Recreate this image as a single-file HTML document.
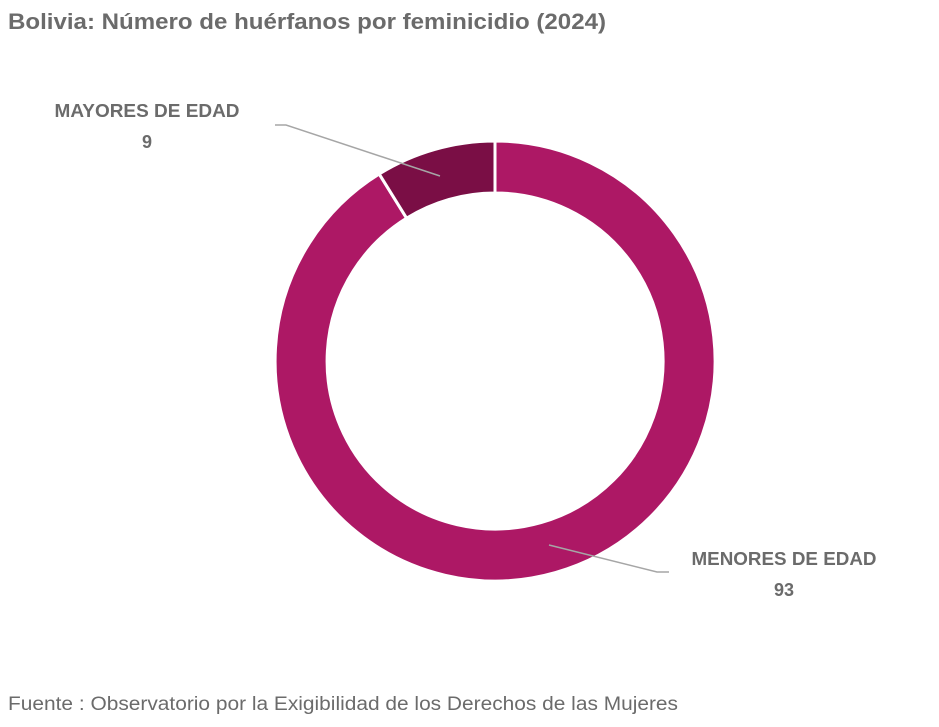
<!DOCTYPE html>
<html><head><meta charset="utf-8"><style>
body{margin:0;background:#fff;width:939px;height:722px;overflow:hidden;font-family:"Liberation Sans",sans-serif}
</style></head><body>
<svg width="939" height="722" viewBox="0 0 939 722" xmlns="http://www.w3.org/2000/svg">
<text x="8" y="29" font-family="Liberation Sans, sans-serif" font-weight="bold" font-size="22" fill="#6b6b6b" textLength="598" lengthAdjust="spacingAndGlyphs">Bolivia: Número de huérfanos por feminicidio (2024)</text>
<path d="M495,141 A220,220 0 1,1 379.2,174 L406.6,218.2 A168,168 0 1,0 495,193 Z" fill="#AD1865" stroke="#fff" stroke-width="3"/>
<path d="M379.2,174 A220,220 0 0,1 495,141 L495,193 A168,168 0 0,0 406.6,218.2 Z" fill="#7A0E45" stroke="#fff" stroke-width="3"/>
<polyline points="275,125 286,125 440,176" fill="none" stroke="#a6a6a6" stroke-width="1.5"/>
<polyline points="549,545 657,572 669,572" fill="none" stroke="#a6a6a6" stroke-width="1.5"/>
<text x="147" y="117" text-anchor="middle" font-weight="bold" font-size="18" fill="#6b6b6b" textLength="185" lengthAdjust="spacingAndGlyphs">MAYORES DE EDAD</text>
<text x="147" y="148" text-anchor="middle" font-weight="bold" font-size="18" fill="#6b6b6b">9</text>
<text x="784" y="565" text-anchor="middle" font-weight="bold" font-size="18" fill="#6b6b6b" textLength="185" lengthAdjust="spacingAndGlyphs">MENORES DE EDAD</text>
<text x="784" y="596" text-anchor="middle" font-weight="bold" font-size="18" fill="#6b6b6b">93</text>
<text x="8" y="710" font-size="19" fill="#6b6b6b" textLength="670" lengthAdjust="spacingAndGlyphs">Fuente : Observatorio por la Exigibilidad de los Derechos de las Mujeres</text>
</svg>
</body></html>
